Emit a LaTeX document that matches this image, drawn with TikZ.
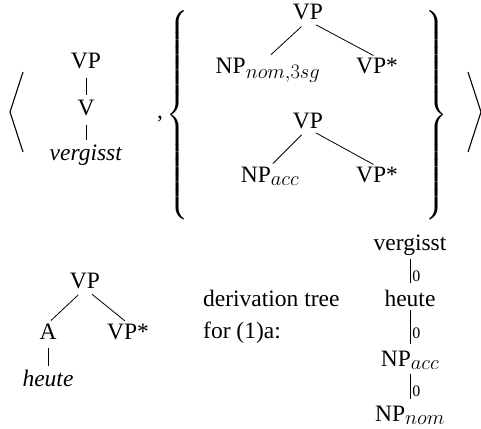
\RequirePackage{fix-cm}
\documentclass[tikz,border=0pt]{standalone}
\usepackage{amsmath}
\usepackage{fontspec}
\setmainfont{Liberation Serif}
\DeclareMathSizes{23.5}{23.5}{20.5}{15}

\begin{document}
\begin{tikzpicture}[x=1pt,y=-1pt,
        font=\fontsize{23.5}{28}\selectfont,
        cat/.style={inner sep=0pt,anchor=base},
        branch/.style={line width=0.8pt,shorten <=9pt,shorten >=4pt},
        deriv/.style={line width=0.8pt,shorten <=4pt,shorten >=6pt},
        addr/.style={right,pos=0.6,inner sep=2pt,font=\fontsize{16}{18}\selectfont},
        bracket/.style={line width=1.1pt}]
        \useasboundingbox (0,0) rectangle (481,428);
        \draw[bracket] (23,72) -- (10,112) -- (23,152);
        \draw[bracket] (468,72) -- (481,112) -- (468,152);
        \node[cat] (vp) at (86,68) {VP};
        \node[cat] (v) at (86,115) {V};
        \node[cat] (vergisst) at (86,160) {\textit{vergisst}};
        \draw[branch] (vp.south) -- (v.north);
        \draw[branch] (v.south) -- (vergisst.north);
        \node[cat] (comma) at (160,118) {,};
        \node[inner sep=0pt] (lbrace) at (178,115) {$\left\{\vcenter{\hbox{\vrule height 206pt width 0pt}}\right.$};
        \node[inner sep=0pt] (rbrace) at (436,115) {$\left.\vcenter{\hbox{\vrule height 206pt width 0pt}}\right\}$};
        \node[cat] (vpa) at (308,20) {VP};
        \node[cat] (npa) at (268,73) {NP$_{nom,\oldstylenums{3}sg}$};
        \node[cat] (vpfa) at (377,73) {VP*};
        \draw[branch] (vpa.south) -- (npa.north);
        \draw[branch] (vpa.south) -- (vpfa.north);
        \node[cat] (vpb) at (308,128) {VP};
        \node[cat] (npb) at (270,182) {NP$_{acc}$};
        \node[cat] (vpfb) at (377,182) {VP*};
        \draw[branch] (vpb.south) -- (npb.north);
        \draw[branch] (vpb.south) -- (vpfb.north);
        \node[cat] (vpc) at (85,288) {VP};
        \node[cat] (a) at (48,339) {A};
        \node[cat] (vpfc) at (128,339) {VP*};
        \node[cat] (heute) at (48,386) {\textit{heute}};
        \draw[branch] (vpc.south) -- (a.north);
        \draw[branch] (vpc.south) -- (vpfc.north);
        \draw[branch] (a.south) -- (heute.north);
        \node[anchor=west,align=left,inner sep=0pt,font=\fontsize{23.5}{32}\selectfont] (label) at (203,317) {derivation tree\\for (1)a:};
        \node[cat] (dv) at (410,250) {vergisst};
        \node[cat] (dh) at (410,306) {heute};
        \node[cat] (dacc) at (410,366) {NP$_{acc}$};
        \node[cat] (dnom) at (410,421) {NP$_{nom}$};
        \draw[deriv] (dv.south) -- node[addr] {0} (dh.north);
        \draw[deriv] (dh.south) -- node[addr] {0} (dacc.north);
        \draw[deriv] (dacc.south) -- node[addr] {0} (dnom.north);
\end{tikzpicture}
\end{document}
